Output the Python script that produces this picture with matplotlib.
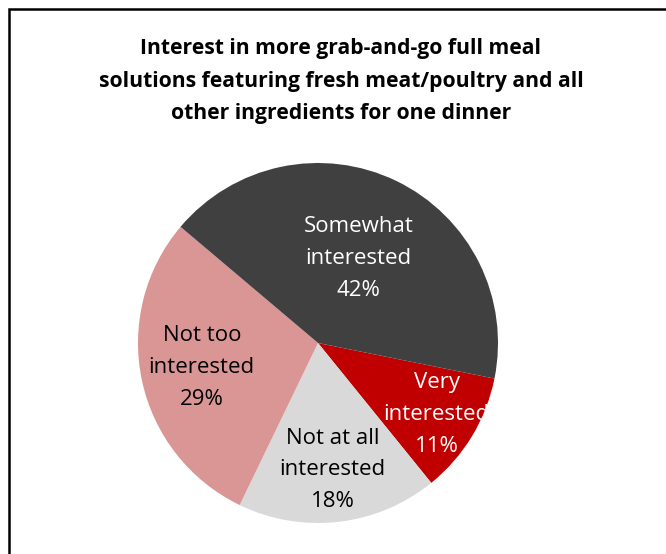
import numpy as np
import matplotlib
matplotlib.use("Agg")
import matplotlib.pyplot as plt
from matplotlib.patches import Rectangle

# Survey responses, clockwise from the right-hand side
categories = ["Very\ninterested", "Not at all\ninterested", "Not too\ninterested", "Somewhat\ninterested"]
shares = [11, 18, 29, 42]
colors = ["#C00000", "#D9D9D9", "#DA9694", "#404040"]
text_colors = ["white", "black", "black", "white"]
label_radius = [0.77, 0.71, 0.66, 0.52]

title = ("Interest in more grab-and-go full meal\n"
         "solutions featuring fresh meat/poultry and all\n"
         "other ingredients for one dinner")

W, H = 666, 554
fig = plt.figure(figsize=(W / 100, H / 100), dpi=100)
fig.patch.set_facecolor("white")

# Chart frame
fig.patches.append(Rectangle((9 / W, -0.1), 1.2, (H - 9) / H + 0.1,
                             transform=fig.transFigure, fill=False,
                             edgecolor="black", linewidth=1.8, clip_on=False))

cx, cy, R = 318, H - 343, 180
ax = fig.add_axes([(cx - R) / W, (cy - R) / H, 2 * R / W, 2 * R / H])

wedges, _ = ax.pie(shares, colors=colors, startangle=-11.4, counterclock=False,
                   radius=1, wedgeprops=dict(linewidth=0))
ax.set_xlim(-1, 1)
ax.set_ylim(-1, 1)
ax.set_aspect("equal")
ax.axis("off")

font = "Open Sans"
for w, lab, val, tc, rd in zip(wedges, categories, shares, text_colors, label_radius):
    mid = np.deg2rad((w.theta1 + w.theta2) / 2)
    ax.text(rd * np.cos(mid), rd * np.sin(mid), f"{lab}\n{val}%",
            ha="center", va="center", color=tc, fontsize=16,
            family=font, linespacing=1.68)

fig.text(341 / W, 1 - 81 / H, title, ha="center", va="center",
         fontsize=15.2, fontweight="bold", family=font, linespacing=1.72)

fig.savefig("out.png", dpi=100)
